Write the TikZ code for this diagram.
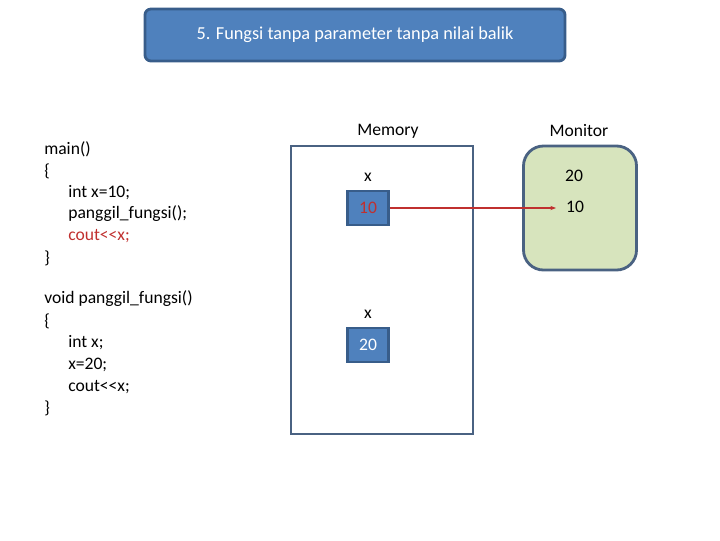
\documentclass[tikz,border=0pt]{standalone}
\usepackage{fontspec}
\setmainfont{Carlito}
\usetikzlibrary{arrows.meta}
\definecolor{boxblue}{HTML}{4F81BD}
\definecolor{boxedge}{HTML}{385D8A}
\definecolor{memedge}{HTML}{4A6282}
\definecolor{mongreen}{HTML}{D7E4BD}
\definecolor{codered}{HTML}{C0302F}
\tikzset{
  codeline/.style={anchor=west, inner sep=0pt, font=\fontsize{12.5}{14}\selectfont},
  cellbox/.style={draw=boxedge, fill=boxblue, line width=1.8pt, minimum width=1.025cm, minimum height=0.85cm, inner sep=0pt, font=\fontsize{12.5}{14}\selectfont},
  lbl/.style={inner sep=0pt, font=\fontsize{12.5}{14}\selectfont}
}
\begin{document}
\begin{tikzpicture}[x=0.025cm, y=-0.025cm]
\useasboundingbox (0,0) rectangle (720,540);
% judul
\node[draw=boxedge, fill=boxblue, line width=2pt, rounded corners=0.15cm, minimum width=10.5cm, minimum height=1.3cm, text=white, font=\fontsize{13}{15}\selectfont] (judul) at (355,35) {5. Fungsi tanpa parameter tanpa nilai balik};
% kode main
\node[codeline] (m1) at (44,149) {main()};
\node[codeline] (m2) at (44,171) {\{};
\node[codeline] (m3) at (68,193) {int x=10;};
\node[codeline] (m4) at (68,214) {panggil\_fungsi();};
\node[codeline, text=codered] (m5) at (68,236) {cout<{}<x;};
\node[codeline] (m6) at (44,258) {\}};
% kode fungsi
\node[codeline] (f1) at (44,299) {void panggil\_fungsi()};
\node[codeline] (f2) at (44,321) {\{};
\node[codeline] (f3) at (68,343) {int x;};
\node[codeline] (f4) at (68,365) {x=20;};
\node[codeline] (f5) at (68,387) {cout<{}<x;};
\node[codeline] (f6) at (44,408) {\}};
% memory
\node[draw=memedge, line width=2pt, minimum width=4.55cm, minimum height=7.2cm, inner sep=0pt] (memory) at (382,290) {};
\node[lbl] at (388,131) {Memory};
\node[lbl] (x1) at (368,177) {x};
\node[cellbox, text=codered] (nilai1) at (368,208) {10};
\node[lbl] (x2) at (368,314) {x};
\node[cellbox, text=white] (nilai2) at (368,345) {20};
% monitor
\node[draw=memedge, fill=mongreen, line width=2pt, rounded corners=0.5cm, minimum width=2.825cm, minimum height=3.1cm, inner sep=0pt] (monitor) at (580,208) {};
\node[lbl] at (579,131) {Monitor};
\node[lbl] (out1) at (574,176) {20};
\node[lbl] (out2) at (575,207) {10};
\coordinate (ujung) at (556,208);
\path[draw, codered, line width=1.2pt, -{Stealth[length=4pt]}] (nilai1.east) -- (ujung);
\end{tikzpicture}
\end{document}
